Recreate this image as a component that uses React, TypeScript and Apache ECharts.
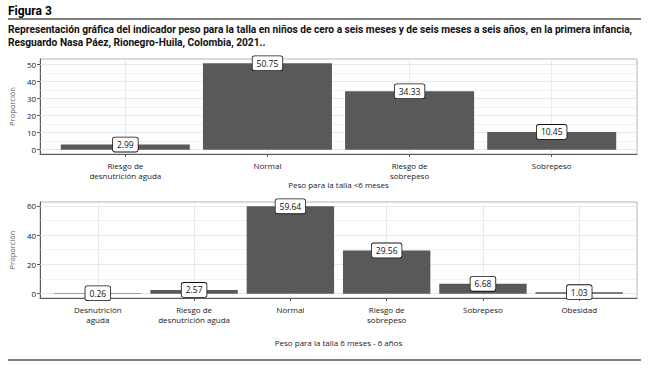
import React, { useEffect, useRef } from "react";
import * as echarts from "echarts";

const figTitle = "Figura 3";
const captionLines = [
  "Representación gráfica del indicador peso para la talla en niños de cero a seis meses y de seis meses a seis años, en la primera infancia,",
  "Resguardo Nasa Páez, Rionegro-Huila, Colombia, 2021..",
];

const cats1 = ["Riesgo de\ndesnutrición aguda", "Normal", "Riesgo de\nsobrepeso", "Sobrepeso"];
const vals1 = [2.99, 50.75, 34.33, 10.45];
const ticks1 = [0, 10, 20, 30, 40, 50];
const minor1 = [5, 15, 25, 35, 45];
const xTitle1 = "Peso para la talla <6 meses";

const cats2 = ["Desnutrición\naguda", "Riesgo de\ndesnutrición aguda", "Normal", "Riesgo de\nsobrepeso", "Sobrepeso", "Obesidad"];
const vals2 = [0.26, 2.57, 59.64, 29.56, 6.68, 1.03];
const ticks2 = [0, 20, 40, 60];
const minor2 = [10, 30, 50];
const xTitle2 = "Peso para la talla 6 meses - 6 años";

const yTitle = "Proporción";

const FONT = "'Open Sans', 'Noto Sans', sans-serif";
const CAP_FONT = "'Roboto', sans-serif";

function panel(idx: number, cats: string[], vals: number[], ticks: number[], minor: number[], xTitle: string, grid: any, nameGap: number, yGap: number) {
  const n = cats.length;
  const xmin = 0.4;
  const xmax = n + 0.6;
  const unit = grid.width / (xmax - xmin);
  const dmax = Math.max(...vals);
  const pad = dmax * 0.05;
  const positions = cats.map((_, i) => i + 1);
  const gridCol = "#e3e3e3";
  const xAxis = {
    gridIndex: idx,
    type: "value",
    min: xmin,
    max: xmax,
    axisLine: { show: true, onZero: false, lineStyle: { color: "#5a5a5a", width: 1 } },
    axisTick: { show: true, length: 3, customValues: positions, lineStyle: { color: "#5a5a5a" } },
    axisLabel: {
      customValues: positions,
      formatter: (v: number) => cats[Math.round(v) - 1] || "",
      fontFamily: FONT,
      fontSize: 8,
      color: "#1a1a1a",
      margin: 6,
      lineHeight: 10,
      align: "center",
    },
    splitLine: { show: false },
    name: xTitle,
    nameLocation: "middle",
    nameGap: nameGap,
    nameTextStyle: { fontFamily: FONT, fontSize: 8, color: "#1a1a1a" },
  };
  const yAxis = {
    gridIndex: idx,
    type: "value",
    min: -pad,
    max: dmax + pad,
    axisLine: { show: true, lineStyle: { color: "#5a5a5a", width: 1 } },
    axisTick: { show: true, length: 3, customValues: ticks, lineStyle: { color: "#5a5a5a" } },
    axisLabel: { customValues: ticks, fontFamily: FONT, fontSize: 8, color: "#1a1a1a", margin: 4 },
    splitLine: { show: false },
    name: yTitle,
    nameLocation: "middle",
    nameRotate: 90,
    nameGap: yGap,
    nameTextStyle: { fontFamily: FONT, fontSize: 7.5, color: "#5a4a4a" },
  };
  const lines: any[] = [];
  ticks.forEach((v) => lines.push({ yAxis: v, lineStyle: { color: gridCol, width: 0.8, type: "solid" } }));
  minor.forEach((v) => lines.push({ yAxis: v, lineStyle: { color: gridCol, width: 0.5, type: "solid" } }));
  positions.forEach((v) => lines.push({ xAxis: v, lineStyle: { color: gridCol, width: 0.8, type: "solid" } }));
  const bg = {
    type: "line",
    xAxisIndex: idx,
    yAxisIndex: idx,
    data: [],
    z: 1,
    silent: true,
    markLine: {
      z: 1,
      zlevel: 0,
      silent: true,
      symbol: ["none", "none"],
      label: { show: false },
      animation: false,
      data: lines,
    },
  };
  const bars = {
    type: "bar",
    xAxisIndex: idx,
    yAxisIndex: idx,
    z: 3,
    barWidth: unit * 0.9,
    data: vals.map((v, i) => [i + 1, v]),
    itemStyle: { color: "#595959" },
    label: {
      show: true,
      position: ["50%", 0],
      align: "center",
      verticalAlign: "middle",
      formatter: (p: any) => p.value[1].toFixed(2),
      fontFamily: FONT,
      fontSize: 8.5,
      color: "#111",
      backgroundColor: "#ffffff",
      borderColor: "#111",
      borderWidth: 0.8,
      borderRadius: 2,
      padding: [2, 4, 1, 4],
      lineHeight: 11,
    },
  };
  return { xAxis, yAxis, series: [bg, bars] };
}

export default function App() {
  const ref = useRef<HTMLDivElement>(null);
  useEffect(() => {
    if (!ref.current) return;
    const chart = echarts.init(ref.current, null, { renderer: "svg" });
    const g1 = { left: 35, top: 59, width: 602, height: 95 };
    const g2 = { left: 35, top: 202, width: 602, height: 96 };
    const p1 = panel(0, cats1, vals1, ticks1, minor1, xTitle1, g1, 22, 11);
    const p2 = panel(1, cats2, vals2, ticks2, minor2, xTitle2, g2, 40, 16);
    const gridStyle = { show: true, borderColor: "#b5b5b5", borderWidth: 1, backgroundColor: "#ffffff", containLabel: false };
    chart.setOption({
      animation: false,
      backgroundColor: "#ffffff",
      grid: [{ ...g1, ...gridStyle }, { ...g2, ...gridStyle }],
      xAxis: [p1.xAxis, p2.xAxis],
      yAxis: [p1.yAxis, p2.yAxis],
      series: [...p1.series, ...p2.series],
      graphic: [
        {
          type: "text",
          left: 8,
          top: 5,
          style: { text: figTitle, fontFamily: CAP_FONT, fontWeight: "bold", fontSize: 12, fill: "#000" },
        },
        {
          type: "line",
          shape: { x1: 8, y1: 19, x2: 641, y2: 19 },
          style: { stroke: "#000", lineWidth: 1.2 },
        },
        {
          type: "text",
          left: 8,
          top: 24,
          style: { text: captionLines[0], fontFamily: CAP_FONT, fontWeight: "bold", fontSize: 10.2, fill: "#111" },
        },
        {
          type: "text",
          left: 8,
          top: 37,
          style: { text: captionLines[1], fontFamily: CAP_FONT, fontWeight: "bold", fontSize: 10.2, fill: "#111" },
        },
        {
          type: "line",
          shape: { x1: 8, y1: 360, x2: 641, y2: 360 },
          style: { stroke: "#000", lineWidth: 1 },
        },
      ],
    });
    return () => chart.dispose();
  }, []);
  return <div ref={ref} style={{ position: "fixed", left: 0, top: 0, width: 649, height: 370 }} />;
}
